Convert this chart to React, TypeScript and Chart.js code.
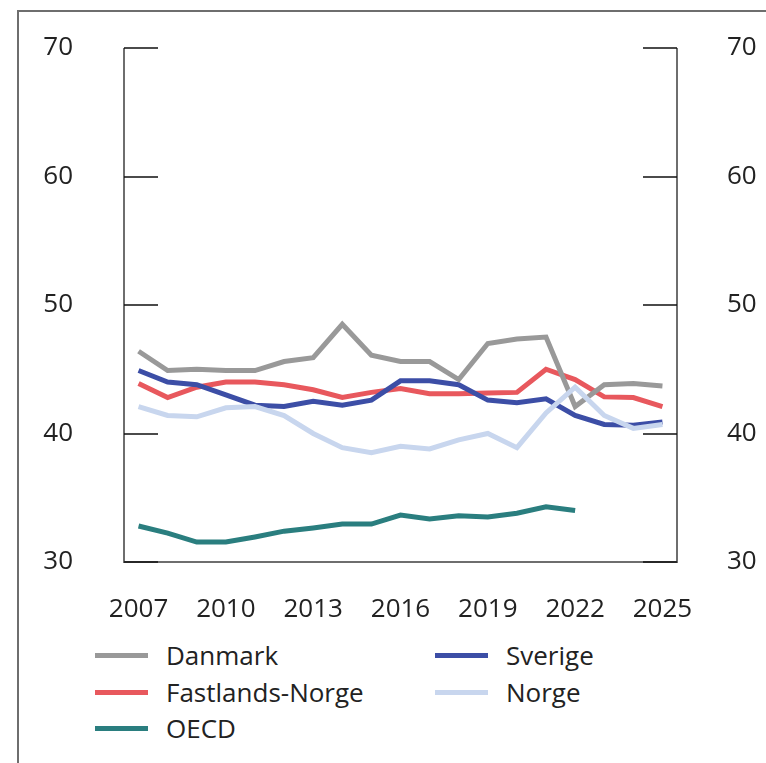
import React, { useEffect, useRef } from "react";
import { Chart, registerables } from "chart.js";
Chart.register(...registerables);

const years = ["2007","2008","2009","2010","2011","2012","2013","2014","2015","2016","2017","2018","2019","2020","2021","2022","2023","2024","2025"];
const danmark = [46.4, 44.9, 45.0, 44.9, 44.9, 45.6, 45.9, 48.5, 46.1, 45.6, 45.6, 44.2, 47.0, 47.35, 47.5, 42.1, 43.8, 43.9, 43.7];
const fastlandsNorge = [43.9, 42.8, 43.6, 44.0, 44.0, 43.8, 43.4, 42.8, 43.2, 43.5, 43.1, 43.1, 43.15, 43.2, 45.0, 44.2, 42.85, 42.8, 42.1];
const sverige = [44.9, 44.0, 43.8, 43.0, 42.2, 42.1, 42.5, 42.2, 42.6, 44.1, 44.1, 43.8, 42.6, 42.4, 42.7, 41.4, 40.7, 40.65, 40.9];
const norge = [42.1, 41.4, 41.3, 42.0, 42.1, 41.4, 40.0, 38.9, 38.5, 39.0, 38.8, 39.5, 40.0, 38.9, 41.6, 43.6, 41.4, 40.4, 40.7];
const oecd = [32.8, 32.25, 31.55, 31.55, 31.95, 32.4, 32.65, 32.95, 32.95, 33.65, 33.35, 33.6, 33.5, 33.8, 34.3, 34.0, null, null, null];
const yTicks = [30, 40, 50, 60, 70];

const COLORS = {
  danmark: "#999999",
  fastlands: "#e8585d",
  sverige: "#3c4ea6",
  norge: "#c8d6ee",
  oecd: "#2a7e7f",
};

const FONT = "'Open Sans', 'Noto Sans', sans-serif";

const framePlugin = {
  id: "frame",
  afterDraw(chart: any) {
    const { ctx, chartArea: a, scales } = chart;
    const y = scales.y;
    ctx.save();
    ctx.strokeStyle = "#6e6e6e";
    ctx.lineWidth = 2;
    ctx.beginPath();
    ctx.moveTo(a.left, a.top);
    ctx.lineTo(a.left, a.bottom);
    ctx.lineTo(a.right, a.bottom);
    ctx.lineTo(a.right, a.top);
    ctx.stroke();
    ctx.strokeStyle = "#111111";
    ctx.lineWidth = 1.5;
    for (const v of yTicks) {
      const py = Math.round(y.getPixelForValue(v));
      ctx.beginPath();
      ctx.moveTo(a.left, py);
      ctx.lineTo(a.left + 34, py);
      ctx.moveTo(a.right - 34, py);
      ctx.lineTo(a.right, py);
      ctx.stroke();
    }
    ctx.restore();
  },
};

const legendItems = [
  { label: "Danmark", color: COLORS.danmark, x: 95, y: 655 },
  { label: "Sverige", color: COLORS.sverige, x: 435, y: 655 },
  { label: "Fastlands-Norge", color: COLORS.fastlands, x: 95, y: 692 },
  { label: "Norge", color: COLORS.norge, x: 435, y: 692 },
  { label: "OECD", color: COLORS.oecd, x: 95, y: 728 },
];

export default function App() {
  const ref = useRef<HTMLCanvasElement>(null);
  useEffect(() => {
    if (!ref.current) return;
    const mk = (label: string, data: any[], color: string) => ({
      label,
      data,
      borderColor: color,
      backgroundColor: color,
      borderWidth: 5,
      pointRadius: 0,
      tension: 0,
      fill: false,
      spanGaps: false,
    });
    const fitY = (w: number) => (s: any) => {
      s.width = w;
      s.paddingTop = 0;
      s.paddingBottom = 0;
    };
    const chart = new Chart(ref.current, {
      type: "line",
      data: {
        labels: years,
        datasets: [
          mk("Norge", norge, COLORS.norge),
          mk("Danmark", danmark, COLORS.danmark),
          mk("Sverige", sverige, COLORS.sverige),
          mk("Fastlands-Norge", fastlandsNorge, COLORS.fastlands),
          mk("OECD", oecd, COLORS.oecd),
        ],
      },
      options: {
        animation: false,
        responsive: false,
        maintainAspectRatio: false,
        layout: { padding: { top: 48, left: 0, right: 0, bottom: 0 } },
        plugins: { legend: { display: false }, tooltip: { enabled: false } },
        scales: {
          x: {
            type: "category",
            offset: true,
            grid: { display: false, drawTicks: false },
            border: { display: false },
            ticks: {
              autoSkip: false,
              maxRotation: 0,
              padding: 32,
              color: "#222",
              font: { family: FONT, size: 26 },
              callback: (_v: any, i: number) => (i % 3 === 0 ? years[i] : ""),
            },
            afterFit: (s: any) => { s.height = 68; s.paddingLeft = 0; s.paddingRight = 0; },
          },
          y: {
            position: "left",
            min: 30,
            max: 70,
            grid: { display: false, drawTicks: false },
            border: { display: false },
            ticks: { stepSize: 10, padding: 51, color: "#222", font: { family: FONT, size: 26 } },
            afterFit: fitY(124),
          },
          y2: {
            position: "right",
            min: 30,
            max: 70,
            grid: { display: false, drawTicks: false },
            border: { display: false },
            ticks: { stepSize: 10, padding: 50, color: "#222", font: { family: FONT, size: 26 } },
            afterFit: fitY(89),
          },
        },
      },
      plugins: [framePlugin],
    });
    return () => chart.destroy();
  }, []);

  return (
    <div style={{ position: "fixed", left: 0, top: 0, width: 766, height: 763, background: "#fff", overflow: "hidden" }}>
      <div style={{ position: "absolute", left: 17, top: 10, width: 800, height: 800, borderLeft: "2px solid #6e6e6e", borderTop: "2px solid #6e6e6e" }} />
      <canvas ref={ref} width={766} height={630} style={{ position: "absolute", left: 0, top: 0, width: 766, height: 630 }} />
      {legendItems.map((it) => (
        <div key={it.label} style={{ position: "absolute", left: it.x, top: it.y - 17, height: 34, display: "flex", alignItems: "center", fontFamily: FONT, fontSize: 26, color: "#222", whiteSpace: "nowrap" }}>
          <span style={{ display: "inline-block", width: 53, height: 5, background: it.color, marginRight: 18 }} />
          <span>{it.label}</span>
        </div>
      ))}
    </div>
  );
}
